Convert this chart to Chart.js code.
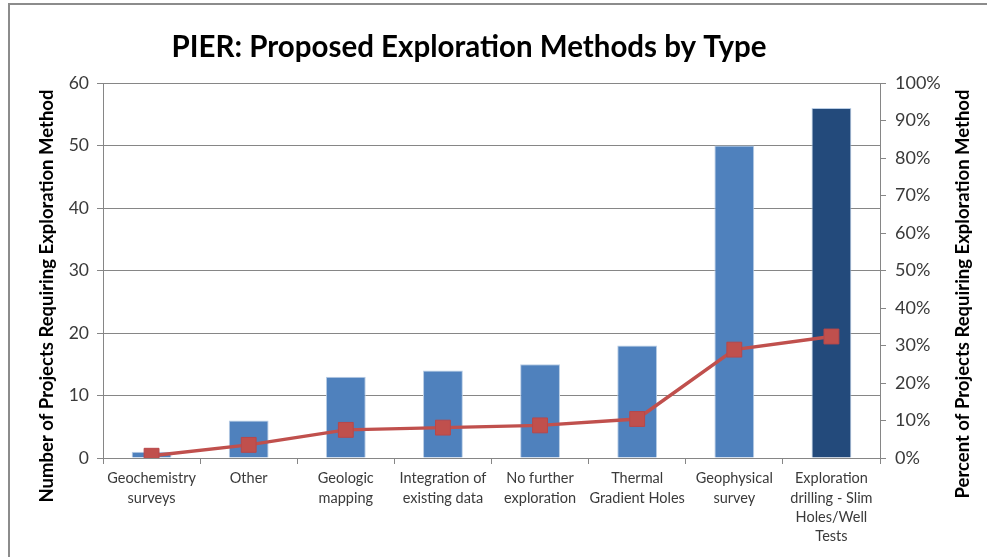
<!DOCTYPE html>
<html>
<head>
<meta charset="utf-8">
<script src="https://cdn.jsdelivr.net/npm/chart.js@4/dist/chart.umd.min.js"></script>
<style>
    html, body { margin: 0; padding: 0; background: #fff; overflow: hidden; }
    #wrap { position: relative; width: 987px; height: 557px; }
    #frame { position: absolute; left: 8px; top: 3px; width: 1100px; height: 700px;
             border-left: 2px solid #8c8c8c; border-top: 2px solid #8c8c8c; }
    canvas { position: absolute; left: 0; top: 0; }
</style>
</head>
<body>
<div id="wrap">
    <div id="frame"></div>
    <canvas id="chart" width="987" height="557"></canvas>
</div>
<script>
// Chart data
const categories = [
    ['Geochemistry', 'surveys'],
    ['Other'],
    ['Geologic', 'mapping'],
    ['Integration of', 'existing data'],
    ['No further', 'exploration'],
    ['Thermal', 'Gradient Holes'],
    ['Geophysical', 'survey'],
    ['Exploration', 'drilling - Slim', 'Holes/Well', 'Tests']
];
const projectCounts = [1, 6, 13, 14, 15, 18, 50, 56];
const projectPercents = [0.6, 3.5, 7.5, 8.1, 8.7, 10.4, 28.9, 32.4];
const barColors = ['#4F81BD', '#4F81BD', '#4F81BD', '#4F81BD', '#4F81BD', '#4F81BD', '#4F81BD', '#234A7B'];

const chartTitle = 'PIER: Proposed Exploration Methods by Type';
const leftAxisTitle = 'Number of Projects Requiring Exploration Method';
const rightAxisTitle = 'Percent of Projects Requiring Exploration Method';

const fontFamily = 'Lato, "Open Sans", sans-serif';
const gridColor = '#868686';
const labelColor = '#3a3a3a';

// Draws chart title and both axis titles (right one reads bottom-to-top)
const titlesPlugin = {
    id: 'titles',
    afterDraw(chart) {
        const ctx = chart.ctx;
        ctx.save();
        ctx.fillStyle = '#000';
        ctx.textAlign = 'center';
        ctx.textBaseline = 'middle';

        ctx.font = 'bold 29.5px ' + fontFamily;
        ctx.fillText(chartTitle, 469, 47);

        ctx.font = 'bold 18.5px ' + fontFamily;
        ctx.translate(47, 296);
        ctx.rotate(-Math.PI / 2);
        ctx.fillText(leftAxisTitle, 0, 0);
        ctx.restore();

        ctx.save();
        ctx.fillStyle = '#000';
        ctx.textAlign = 'center';
        ctx.textBaseline = 'middle';
        ctx.font = 'bold 18.5px ' + fontFamily;
        ctx.translate(963, 294);
        ctx.rotate(-Math.PI / 2);
        ctx.fillText(rightAxisTitle, 0, 0);
        ctx.restore();
    }
};

const ctx = document.getElementById('chart').getContext('2d');
new Chart(ctx, {
    data: {
        labels: categories,
        datasets: [
            {
                type: 'line',
                label: 'Percent',
                data: projectPercents,
                yAxisID: 'y1',
                borderColor: '#C0504D',
                borderWidth: 3.5,
                backgroundColor: '#C0504D',
                pointStyle: 'rect',
                pointRadius: 10.5,
                pointHoverRadius: 10.5,
                pointBackgroundColor: '#C0504D',
                pointBorderColor: '#B8474A',
                pointBorderWidth: 1,
                tension: 0,
                order: 0
            },
            {
                type: 'bar',
                label: 'Number',
                data: projectCounts,
                yAxisID: 'y',
                backgroundColor: barColors,
                borderColor: '#B9CDE5',
                borderWidth: 1,
                categoryPercentage: 1,
                barPercentage: 0.41,
                order: 1
            }
        ]
    },
    options: {
        responsive: false,
        animation: false,
        devicePixelRatio: 1,
        layout: { padding: { top: 83, left: 0, right: 0, bottom: 0 } },
        plugins: {
            legend: { display: false },
            title: { display: false },
            tooltip: { enabled: false }
        },
        scales: {
            x: {
                afterFit(scale) { scale.height = 99; },
                grid: {
                    offset: true,
                    drawOnChartArea: false,
                    drawTicks: true,
                    tickLength: 6,
                    color: gridColor
                },
                border: { display: true, color: gridColor, width: 1 },
                ticks: {
                    autoSkip: false,
                    maxRotation: 0,
                    padding: 5,
                    color: labelColor,
                    font: { family: fontFamily, size: 14.5, lineHeight: 1.33 }
                }
            },
            y: {
                position: 'left',
                min: 0,
                max: 60,
                afterFit(scale) { scale.width = 103; },
                grid: {
                    color: gridColor,
                    lineWidth: 1,
                    tickLength: 6
                },
                border: { display: true, color: gridColor, width: 1 },
                ticks: {
                    stepSize: 10,
                    padding: 8,
                    color: labelColor,
                    font: { family: fontFamily, size: 17.5 }
                }
            },
            y1: {
                position: 'right',
                min: 0,
                max: 100,
                afterFit(scale) { scale.width = 107; },
                grid: {
                    drawOnChartArea: false,
                    color: gridColor,
                    tickLength: 6
                },
                border: { display: true, color: gridColor, width: 1 },
                ticks: {
                    stepSize: 10,
                    padding: 9,
                    color: labelColor,
                    font: { family: fontFamily, size: 18 },
                    callback: v => v + '%'
                }
            }
        }
    },
    plugins: [titlesPlugin]
});
</script>
</body>
</html>
